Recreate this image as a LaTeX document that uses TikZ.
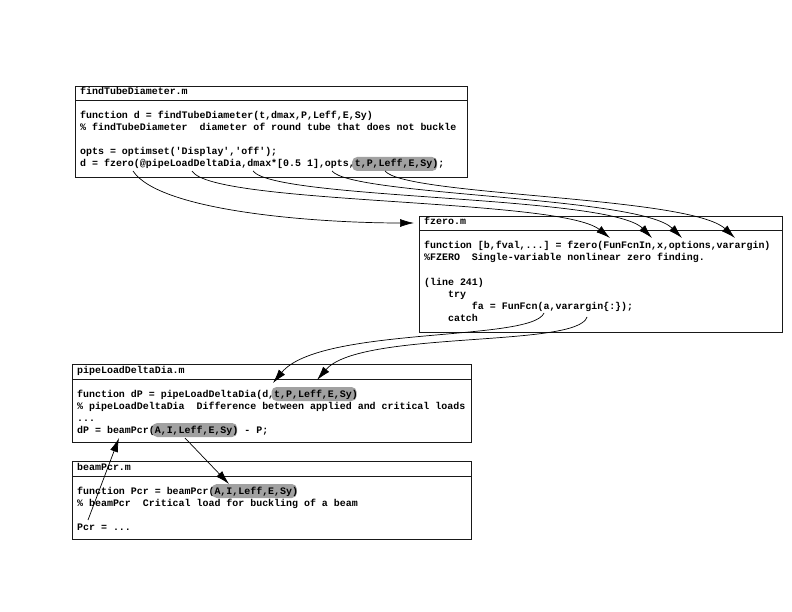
\documentclass[tikz,border=0pt]{standalone}
\usepackage{fontspec}
\setmonofont{Liberation Mono}
\usetikzlibrary{arrows.meta}
\newcommand\codefont{\fontsize{9.95}{12}\selectfont\ttfamily\bfseries\frenchspacing}
\newcommand\hlrange[4]{\fill[hlbox] ({#1+#3*5.97-2.5},{#2-10}) rectangle ({#1+#4*5.97+5},{#2+4});}
\tikzset{
  codebox/.style={draw=black!90, line width=1pt, anchor=north west, inner sep=0pt},
  sepline/.style={draw=black!90, line width=1pt},
  code/.style={font=\codefont, anchor=base west, inner sep=0pt},
  hlbox/.style={fill=black!37, rounded corners=5pt},
  conn/.style={draw, line width=0.7pt, -{Latex[length=14pt,width=8pt]}},
}
\begin{document}
\begin{tikzpicture}[x=1pt,y=-1pt]
\useasboundingbox (0,0) rectangle (792,612);
% boxes
\node[codebox, minimum width=392pt, minimum height=91pt] (b1) at (75,86) {};
\node[codebox, minimum width=363pt, minimum height=116pt] (b2) at (419,216) {};
\node[codebox, minimum width=399pt, minimum height=78pt] (b3) at (72,364) {};
\node[codebox, minimum width=399pt, minimum height=78pt] (b4) at (72,461) {};
\foreach \b in {b1,b2,b3,b4}
  \draw[sepline] ([yshift=-15pt]\b.north west) -- ([yshift=-15pt]\b.north east);
% highlights
\hlrange{80}{167}{46}{59}
\hlrange{77}{397}{33}{46}
\hlrange{77}{433}{13}{26}
\hlrange{77}{494}{23}{36}
% box 1 text
\node[code] (t1) at (80,95) {findTubeDiameter.m};
\node[code] (t1a) at (80,119) {function d = findTubeDiameter(t,dmax,P,Leff,E,Sy)};
\node[code] (t1b) at (80,131) {\% findTubeDiameter\ \ diameter of round tube that does not buckle};
\node[code] (t1c) at (80,155) {opts = optimset('Display','off');};
\node[code] (t1d) at (80,167) {d = fzero(@pipeLoadDeltaDia,dmax*[0.5 1],opts,t,P,Leff,E,Sy);};
% box 2 text
\node[code] (t2) at (424,225) {fzero.m};
\node[code] (t2a) at (424,249) {function [b,fval,...] = fzero(FunFcnIn,x,options,varargin)};
\node[code] (t2b) at (424,261) {\%FZERO\ \ Single-variable nonlinear zero finding.};
\node[code] (t2c) at (424,285) {(line 241)};
\node[code] (t2d) at ({424+4*5.97},297) {try};
\node[code] (t2e) at ({424+8*5.97},309) {fa = FunFcn(a,varargin\{:\});};
\node[code] (t2f) at ({424+4*5.97},321) {catch};
% box 3 text
\node[code] (t3) at (77,373) {pipeLoadDeltaDia.m};
\node[code] (t3a) at (77,397) {function dP = pipeLoadDeltaDia(d,t,P,Leff,E,Sy)};
\node[code] (t3b) at (77,409) {\% pipeLoadDeltaDia\ \ Difference between applied and critical loads};
\node[code] (t3c) at (77,421) {...};
\node[code] (t3d) at (77,433) {dP = beamPcr(A,I,Leff,E,Sy) - P;};
% box 4 text
\node[code] (t4) at (77,470) {beamPcr.m};
\node[code] (t4a) at (77,494) {function Pcr = beamPcr(A,I,Leff,E,Sy)};
\node[code] (t4b) at (77,506) {\% beamPcr\ \ Critical load for buckling of a beam};
\node[code] (t4c) at (77,530) {Pcr = ...};
% connector end points
\coordinate (s1) at (133,171);
\coordinate (s2) at (192,171);
\coordinate (s3) at (253,171);
\coordinate (s4) at (332,171);
\coordinate (s5) at (385,171);
\coordinate (e1) at (414,223);
\coordinate (e2) at (610,238);
\coordinate (e3) at (652,238);
\coordinate (e4) at (682,238);
\coordinate (e5) at (735,238);
\coordinate (s6) at (544,313);
\coordinate (s7) at (587,317);
\coordinate (e6) at (273,383);
\coordinate (e7) at (317,380);
\coordinate (s8) at (185,438);
\coordinate (e8) at (229,484);
\coordinate (s9) at (88,520);
\coordinate (e9) at (119,438);
% connectors
\draw[conn] (s1) .. controls (160,212) and (320,223) .. (e1);
\draw[conn] (s2) .. controls (212,205) and (560,198) .. (e2);
\draw[conn] (s3) .. controls (275,200) and (610,195) .. (e3);
\draw[conn] (s4) .. controls (352,196) and (640,196) .. (e4);
\draw[conn] (s5) .. controls (405,196) and (690,196) .. (e5);
\draw[conn] (s6) .. controls (532,342) and (320,326) .. (e6);
\draw[conn] (s7) .. controls (578,348) and (360,330) .. (e7);
\draw[conn] (s8) -- (e8);
\draw[conn] (s9) -- (e9);
\end{tikzpicture}
\end{document}
